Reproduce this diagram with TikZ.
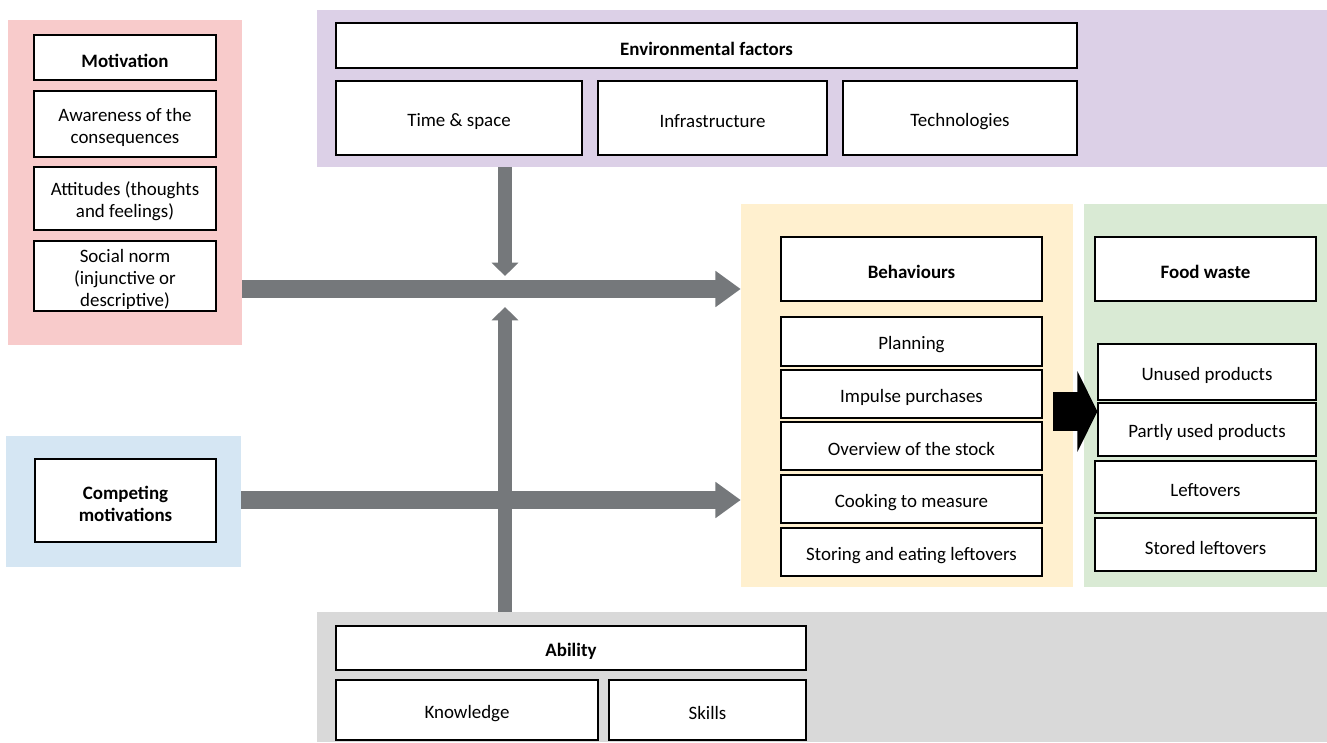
\documentclass[tikz,border=0pt]{standalone}
\usepackage{fontspec}
\setmainfont{Carlito}
\usepackage{tikz}
\usetikzlibrary{arrows.meta, positioning, calc}

\definecolor{motpink}{HTML}{F8CBCB}
\definecolor{envlilac}{HTML}{DCD0E7}
\definecolor{compblue}{HTML}{D5E6F3}
\definecolor{abilgrey}{HTML}{D9D9D9}
\definecolor{behyellow}{HTML}{FFF0CF}
\definecolor{fwgreen}{HTML}{D9EAD4}
\definecolor{flowgrey}{HTML}{75787B}

\newcommand{\topstrut}{\rule{0pt}{15pt}}

\tikzset{
  panel/.style={draw=none, fill=#1, inner sep=0pt},
  fbox/.style 2 args={draw=black, line width=0.9pt, fill=white, align=center,
    inner xsep=2pt, inner ysep=0pt, minimum width=#1, minimum height=#2,
    execute at begin node={\topstrut},
    font=\fontsize{14.2}{16.5}\selectfont},
  headbox/.style 2 args={fbox={#1}{#2}, font=\fontsize{14.2}{16.5}\selectfont\bfseries},
  wideflow/.style={draw=flowgrey, line width=13pt,
    -{Triangle[width=26pt, length=19pt]}},
  thinflow/.style={draw=flowgrey, line width=10.5pt,
    -{Triangle[width=19.5pt, length=10pt]}},
  bigblack/.style={draw=black, line width=29.25pt,
    -{Triangle[width=60pt, length=15pt]}}
}

\begin{document}
\begin{tikzpicture}[x=0.75pt, y=-0.75pt]
\useasboundingbox (0,0) rectangle (1327,742);

% coloured panels
\node[panel=motpink, minimum width=175.5pt, minimum height=243.75pt] (motpanel) at (125,182.5) {};
\node[panel=envlilac, minimum width=757.5pt, minimum height=117.75pt] (envpanel) at (822,88.5) {};
\node[panel=compblue, minimum width=176.25pt, minimum height=98.25pt] (comppanel) at (123.5,501.5) {};
\node[panel=abilgrey, minimum width=757.5pt, minimum height=97.5pt] (abilpanel) at (822,677) {};
\node[panel=behyellow, minimum width=249pt, minimum height=287.25pt] (behpanel) at (907,395.5) {};
\node[panel=fwgreen, minimum width=182.25pt, minimum height=287.25pt] (fwpanel) at (1205.5,395.5) {};

% motivation
\node[headbox={136.5pt}{33.75pt}] (motiv) at (125,57.5) {Motivation};
\node[fbox={136.5pt}{49.5pt}] (aware) at (125,124) {\topstrut Awareness of the\\consequences};
\node[fbox={136.5pt}{47.25pt}] (attit) at (125,198.5) {\topstrut Attitudes (thoughts\\and feelings)};
\node[fbox={136.5pt}{52.5pt}] (socnorm) at (125,276) {\topstrut Social norm\\(injunctive or\\descriptive)};

% environment
\node[headbox={555.75pt}{33.75pt}] (envhead) at (706.5,45.5) {Environmental factors};
\node[fbox={184.5pt}{55.5pt}] (timesp) at (459,118) {Time \& space};
\node[fbox={171.75pt}{55.5pt}] (infra) at (712.5,118) {Infrastructure};
\node[fbox={175.5pt}{55.5pt}] (techn) at (960,118) {Technologies};

% competing motivations
\node[headbox={135.75pt}{62.25pt}] (compet) at (125.5,500.5) {\topstrut Competing\\motivations};

% ability
\node[headbox={352.5pt}{33pt}] (abil) at (571,648) {Ability};
\node[fbox={196.5pt}{45pt}] (knowl) at (467,710) {Knowledge};
\node[fbox={147.75pt}{45pt}] (skills) at (707.5,710) {Skills};

% behaviours
\node[headbox={195.75pt}{48pt}] (behhead) at (911.5,269) {Behaviours};
\node[fbox={195.75pt}{36.75pt}] (plan) at (911.5,341.5) {Planning};
\node[fbox={195.75pt}{36pt}] (impulse) at (911.5,394) {Impulse purchases};
\node[fbox={195.75pt}{36pt}] (overview) at (911.5,446) {Overview of the stock};
\node[fbox={195.75pt}{36pt}] (cooking) at (911.5,499) {Cooking to measure};
\node[fbox={195.75pt}{36pt}] (storing) at (911.5,552) {Storing and eating leftovers};

% food waste
\node[headbox={165.75pt}{48pt}] (fwhead) at (1205.5,269) {Food waste};
\node[fbox={163.5pt}{42pt}] (unused) at (1207,372) {Unused products};
\node[fbox={163.5pt}{39.75pt}] (partly) at (1207,429.5) {Partly used products};
\node[fbox={165.75pt}{39pt}] (leftov) at (1205.5,487) {Leftovers};
\node[fbox={165.75pt}{39.75pt}] (stored) at (1205.5,544.5) {Stored leftovers};

% flows
\coordinate (cross1) at (505,289);
\coordinate (cross2) at (505,500);
\coordinate (downtip) at (505,276);
\coordinate (uptip) at (505,307);
\coordinate (bstart) at (1053,411.5);

\draw[thinflow] (envpanel.south -| cross1) -- (downtip);
\draw[thinflow] (abilpanel.north -| cross2) -- (uptip);
\draw[wideflow] (motpanel.east |- cross1) -- (behpanel.west |- cross1);
\draw[wideflow] (comppanel.east |- cross2) -- (behpanel.west |- cross2);
\draw[bigblack] (bstart) -- (bstart -| unused.west);
\end{tikzpicture}
\end{document}
